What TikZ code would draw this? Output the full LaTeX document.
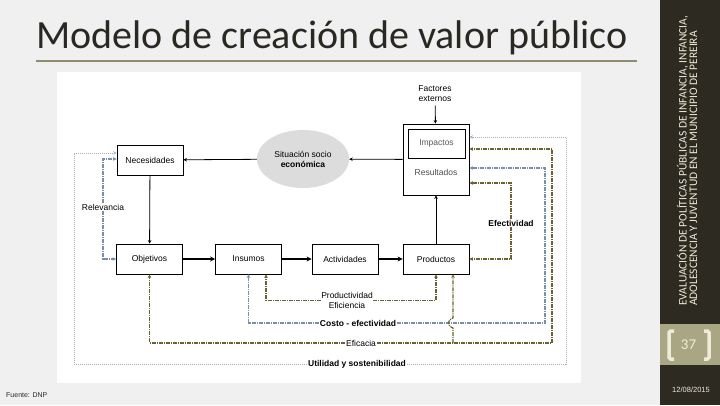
\documentclass[tikz,border=0pt]{standalone}
\usepackage{fontspec}
\setmainfont{Carlito}
\newfontfamily\diag{Liberation Sans}
\usetikzlibrary{arrows.meta,shapes.geometric}

\definecolor{fondo}{HTML}{F0F0F0}
\definecolor{banda}{HTML}{2D2A22}
\definecolor{caqui}{HTML}{A9A683}
\definecolor{crema}{HTML}{EFEBD6}
\definecolor{oliva}{HTML}{6B6131}
\definecolor{azul}{HTML}{7890AA}
\definecolor{claro}{HTML}{A3B3C4}
\definecolor{gris}{HTML}{DCDCDC}
\definecolor{tinta}{HTML}{2A2823}

\begin{document}
\begin{tikzpicture}[x=1pt,y=-1pt,
  >={Stealth[length=3.5pt,width=3.5pt]},
  caja/.style={draw,fill=white,line width=0.8pt,minimum width=66pt,minimum height=30pt,inner sep=0pt,font=\diag\fontsize{8.5}{10}\selectfont},
  etiq/.style={fill=white,inner sep=1pt,font=\diag\fontsize{8.5}{10}\selectfont},
  linoliva/.style={oliva,line width=1.2pt,dash pattern=on 4pt off 1pt on 1pt off 1pt},
  linazul/.style={azul,line width=1.1pt,dash pattern=on 4pt off 1pt on 1pt off 1pt},
  linclara/.style={claro,line width=0.9pt,dash pattern=on 1pt off 1pt},
  flujo/.style={-{Stealth[length=5pt,width=5pt]},line width=1.5pt}]
\useasboundingbox (0,0) rectangle (720,405);
%fondo de la diapositiva
\fill[fondo] (0,0) rectangle (660,405);
\fill[banda] (660,0) rectangle (720,405);
\fill[caqui] (660,324) rectangle (720,365);
\fill[white] (57,72) rectangle (581,383);

%titulo
\node[anchor=base west,inner sep=0pt,text=tinta,font=\fontsize{40}{44}\selectfont] (titulo) at (36,48) {Modelo de creación de valor público};
\draw[caqui!85!black,line width=2pt] (36,61) -- (637,61);

%banda lateral
\node[rotate=90,anchor=west,align=left,inner sep=0pt,text=crema,font=\fontsize{11.5}{10.5}\selectfont] (proyecto) at (687,306) {EVALUACIÓN DE POLÍTICAS PÚBLICAS DE INFANCIA, INFANCIA,\\ADOLESCENCIA Y JUVENTUD EN EL MUNICIPIO DE PEREIRA};
\draw[crema,line width=3.5pt,rounded corners=1.5pt] (674,331) -- (669,331) -- (669,359) -- (674,359);
\draw[crema,line width=3.5pt,rounded corners=1.5pt] (704,331) -- (709,331) -- (709,359) -- (704,359);
\node[text=crema,font=\fontsize{15}{16}\selectfont] (pagina) at (688.5,345) {37};
\node[text=crema,font=\diag\fontsize{7.5}{8}\selectfont] (fecha) at (691,390) {12/08/2015};
\node[anchor=west,inner sep=0pt,text=tinta,font=\diag\fontsize{7}{8}\selectfont] (fuente) at (6,395) {Fuente: DNP};

%parte superior
\node[caja] (nec) at (150,160) {Necesidades};
\node[ellipse,fill=gris,minimum width=92pt,minimum height=58pt,inner sep=0pt,align=center,font=\diag\fontsize{8.5}{10}\selectfont] (sit) at (303,159) {Situación socio\\\textbf{económica}};
\node[caja,minimum height=71pt] (res) at (436,159.5) {};
\node[caja,minimum width=57pt,minimum height=29pt,line width=0.6pt,text=gray!70!black] (imp) at (436.5,143.5) {Impactos};
\node[font=\diag\fontsize{8.5}{10}\selectfont,text=gray!60!black] (resu) at (436,172) {Resultados};
\node[align=center,font=\diag\fontsize{8.5}{10}\selectfont] (fact) at (435,94) {Factores\\externos};

%cadena de valor
\node[caja] (obj) at (149.5,259) {Objetivos};
\node[caja] (ins) at (248.5,259) {Insumos};
\node[caja] (act) at (345,259) {Actividades};
\node[caja] (prod) at (436,259) {Productos};

%etiquetas
\node[etiq] (relev) at (103,207) {Relevancia};
\node[etiq,font=\diag\bfseries\fontsize{8.5}{10}\selectfont] (efec) at (511,223) {Efectividad};
\node[etiq,align=center,inner sep=0.5pt] (prodv) at (347,300.5) {Productividad\\Eficiencia};
\node[etiq,font=\diag\bfseries\fontsize{8.5}{10}\selectfont] (costo) at (358,323) {Costo - efectividad};
\node[etiq] (efic) at (361,343) {Eficacia};
\node[etiq,font=\diag\bfseries\fontsize{8.5}{10}\selectfont] (util) at (357,364) {Utilidad y sostenibilidad};

%conexiones
\draw[->,line width=0.8pt] (fact) -- (res);
\draw[->,line width=0.8pt] (res) -- (sit);
\draw[->,line width=0.8pt] (sit) -- (nec);
\draw[->,line width=0.8pt] (nec) -- (obj);
\draw[flujo] (obj) -- (ins);
\draw[flujo] (ins) -- (act);
\draw[flujo] (act) -- (prod);
\draw[->,line width=0.8pt] (prod) -- (res);

%retroalimentacion
\draw[linazul,->] (relev) |- (nec.west |- 0,159);
\draw[linazul,->] (relev) |- (obj);

\draw[linoliva,->] (efec) |- (res.east |- 0,183);
\draw[linoliva,->] (efec) |- (prod);

\draw[linoliva,->] (prodv) -| ([xshift=17.5pt]ins.south);
\draw[linoliva,->] (prodv) -| (prod);

\draw[linazul,->] (costo) -| (545,168) -- (res.east |- 0,168);
\draw[linazul,->] (costo) -| (ins);

\draw[linoliva,->] (efic) -| (552,149) -- (res.east |- 0,149);
\draw[linoliva,->] (efic) -| (obj);
\coordinate (salto) at (453,343);
\draw[linoliva,->] (salto) -- (453,328) .. controls (447,327) and (447,319) .. (453,318) -- (prod.south -| salto);

\draw[linclara,->] (util) -| (566,137) -- (res.east |- 0,137);
\draw[linclara,->] (util) -| (74,153) -- (nec.west |- 0,153);
\end{tikzpicture}
\end{document}
